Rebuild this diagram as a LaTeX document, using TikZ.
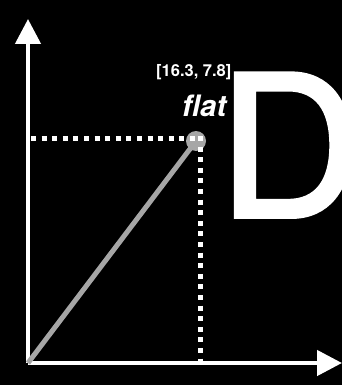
\documentclass[tikz,border=0pt]{standalone}
\usepackage{fontspec}
\setmainfont{TeX Gyre Heros}
\newfontfamily\heavyD[FakeBold=2]{TeX Gyre Heros}
\usetikzlibrary{arrows.meta}
\begin{document}
\begin{tikzpicture}[x=1pt,y=-1pt,
  axis/.style={draw=white,line width=4.5pt,-{Triangle[width=25pt,length=25pt]}},
  guide/.style={draw=white,line width=5pt,dash pattern=on 5pt off 5.6pt},
  vec/.style={draw=gray!70,line width=5pt},
  lbl/.style={text=white,inner sep=0pt,font=\bfseries}]
\fill[black] (0,0) rectangle (342,385);
\useasboundingbox (0,0) rectangle (342,385);
\coordinate (O) at (28,363);
\coordinate (Y) at (28,19);
\coordinate (X) at (342,363);
\coordinate (P) at (196,141);
\coordinate (HL) at (31,138.5);
\coordinate (HR) at (200,138.5);
\coordinate (VT) at (200,136);
\coordinate (VB) at (200,363);
\draw[axis] (O) -- (Y);
\draw[axis] (O) -- (X);
\draw[vec] (O) -- (P);
\fill[gray!70] (P) circle (10pt);
\draw[guide] (HL) -- (HR);
\draw[guide] (VT) -- (VB);
\node[lbl,anchor=base west,font=\bfseries\fontsize{16.5}{17}\selectfont] (coord) at (156,77) {[16.3, 7.8]};
\node[lbl,anchor=base west,font=\bfseries\itshape\fontsize{29.5}{30}\selectfont] (flat) at (182,117) {flat};
\node[lbl,anchor=base west,font=\heavyD\fontsize{197}{200}\selectfont] (D) at (218,217) {D};
\end{tikzpicture}
\end{document}
